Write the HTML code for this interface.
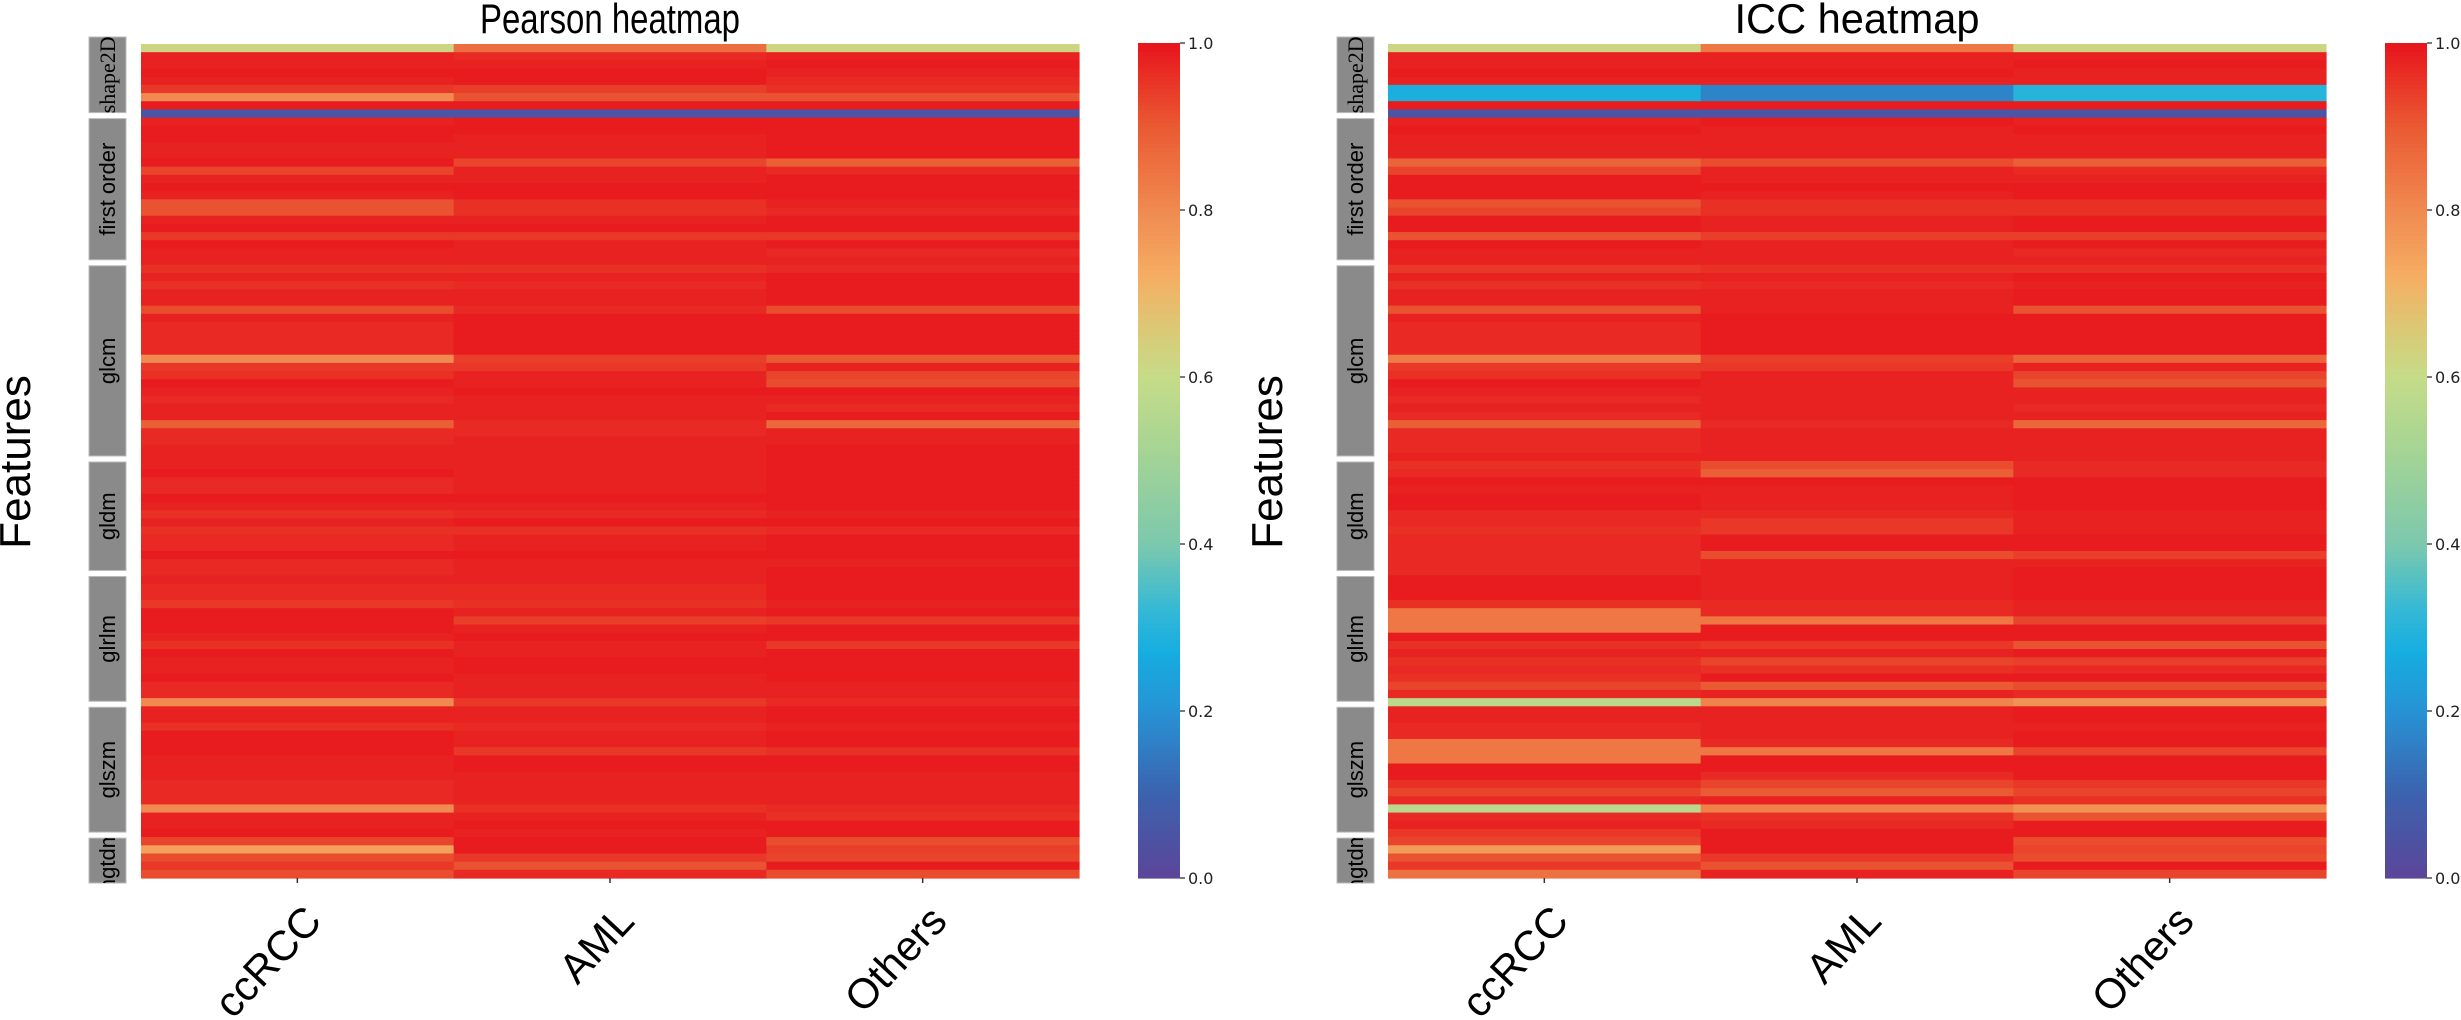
<!DOCTYPE html>
<html><head><meta charset="utf-8">
<style>
html,body{margin:0;padding:0;background:#fff;}
svg{display:block;font-family:"Liberation Sans",sans-serif;}
</style></head>
<body>
<svg id="fig" width="2461" height="1020" viewBox="0 0 2461 1020" xmlns="http://www.w3.org/2000/svg">
<rect x="0" y="0" width="2461" height="1020" fill="#fff"/>
</svg>
<script>
const categories = ["ccRCC", "AML", "Others"];
const groupNames = ["shape2D", "first order", "glcm", "gldm", "glrlm", "glszm", "ngtdm"];
const groupSizes = [9, 18, 24, 14, 16, 16, 5];
const cbTicks = [0.0, 0.2, 0.4, 0.6, 0.8, 1.0];
const cbTickLabels = ["0.0", "0.2", "0.4", "0.6", "0.8", "1.0"];

const pearsonCC = [.62,.98,.98,.99,.98,.95,.80,.99,.05,
.98,.99,.99,.98,.98,.99,.93,.98,.99,.98,.91,.91,.98,.99,.95,.99,.98,.98,
.96,.98,.96,.98,.98,.92,.98,.97,.97,.97,.97,.80,.95,.96,.99,.98,.97,.98,.98,.89,.97,.97,.98,.98,
.98,.99,.97,.97,.99,.98,.96,.98,.96,.97,.97,.99,.97,.97,
.98,.97,.97,.95,.99,.99,.99,.98,.96,.99,.98,.98,.99,.97,.97,.80,
.98,.98,.96,.99,.99,.99,.98,.98,.98,.97,.97,.97,.80,.98,.98,.99,
.93,.75,.92,.95,.92];
const pearsonAML = [.86,.97,.98,.99,.99,.94,.91,.99,.05,
.99,.99,.98,.98,.98,.93,.98,.98,.99,.99,.96,.96,.98,.99,.95,.98,.98,.98,
.96,.98,.97,.98,.98,.97,.99,.99,.99,.99,.99,.94,.95,.98,.98,.99,.98,.98,.98,.97,.97,.98,.98,.98,
.98,.98,.98,.98,.99,.98,.97,.99,.96,.98,.98,.99,.98,.98,
.98,.97,.97,.96,.98,.94,.98,.99,.98,.98,.99,.99,.98,.98,.98,.95,
.98,.98,.97,.98,.98,.95,.99,.99,.98,.98,.98,.98,.96,.98,.99,.98,
.99,.99,.95,.91,.97];
const pearsonOthers = [.62,.98,.99,.98,.97,.96,.91,.99,.05,
.99,.99,.99,.99,.99,.89,.97,.99,.99,.99,.98,.97,.99,.99,.95,.99,.97,.98,
.97,.99,.99,.99,.99,.92,.99,.99,.99,.99,.99,.90,.98,.93,.92,.99,.98,.97,.99,.87,.98,.98,.99,.99,
.99,.99,.99,.99,.99,.99,.98,.99,.97,.99,.99,.99,.98,.99,
.99,.99,.99,.98,.99,.95,.99,.99,.95,.99,.99,.99,.99,.98,.98,.97,
.99,.99,.98,.99,.99,.96,.99,.99,.98,.98,.98,.98,.97,.96,.99,.99,
.92,.94,.93,.99,.92];

const iccCC = [.62,.98,.98,.99,.98,.28,.28,.99,.05,
.98,.99,.98,.98,.98,.88,.93,.99,.99,.99,.91,.93,.99,.99,.91,.99,.98,.98,
.95,.98,.96,.98,.98,.91,.98,.97,.97,.97,.97,.83,.95,.96,.99,.98,.97,.98,.97,.89,.97,.97,.97,.98,
.96,.97,.99,.98,.99,.99,.97,.97,.96,.97,.97,.97,.97,.97,
.99,.99,.99,.96,.84,.84,.84,.99,.96,.98,.96,.97,.96,.93,.97,.57,
.98,.98,.97,.97,.84,.84,.84,.99,.99,.96,.93,.97,.57,.97,.98,.95,
.93,.76,.91,.95,.85];
const iccAML = [.84,.98,.98,.99,.98,.17,.17,.99,.05,
.99,.98,.98,.98,.98,.92,.98,.98,.99,.98,.96,.96,.98,.98,.94,.98,.98,.98,
.96,.98,.97,.98,.98,.98,.99,.99,.99,.99,.99,.94,.95,.98,.98,.98,.98,.98,.98,.97,.98,.98,.98,.98,
.92,.89,.99,.98,.98,.98,.97,.95,.95,.99,.99,.92,.98,.98,
.98,.98,.98,.97,.97,.84,.99,.99,.95,.98,.93,.96,.99,.90,.98,.81,
.98,.98,.98,.98,.97,.84,.99,.99,.97,.93,.90,.98,.82,.96,.97,.99,
.99,.99,.95,.91,.98];
const iccOthers = [.62,.98,.99,.98,.98,.30,.30,.99,.05,
.98,.99,.98,.98,.98,.89,.97,.98,.99,.99,.96,.96,.99,.99,.94,.99,.97,.98,
.96,.99,.98,.99,.99,.91,.99,.99,.99,.99,.99,.88,.98,.93,.91,.98,.98,.97,.98,.87,.98,.98,.98,.98,
.97,.97,.99,.99,.99,.99,.98,.98,.98,.99,.99,.94,.98,.99,
.99,.99,.99,.98,.98,.93,.99,.99,.91,.99,.94,.97,.99,.92,.97,.78,
.99,.99,.98,.99,.99,.93,.99,.99,.99,.95,.93,.96,.78,.91,.99,.99,
.92,.93,.92,.99,.93];

const NS = "http://www.w3.org/2000/svg";
const svg = document.getElementById("fig");
function mk(tag, attrs, parent) {
  const e = document.createElementNS(NS, tag);
  for (const k in attrs) e.setAttribute(k, attrs[k]);
  (parent || svg).appendChild(e);
  return e;
}
const cmapStops = [[0.0,"#5c4599"],[0.1,"#3c62ae"],[0.2,"#2792d4"],[0.27,"#16ade0"],[0.32,"#33b8d6"],[0.4,"#7cc8ae"],[0.5,"#a1d396"],[0.6,"#c5dc88"],[0.66,"#dcc875"],[0.72,"#f5ae63"],[0.8,"#f08a50"],[0.9,"#ea5a33"],[1.0,"#e8141c"]];
function hex2rgb(h){return [parseInt(h.slice(1,3),16),parseInt(h.slice(3,5),16),parseInt(h.slice(5,7),16)];}
function cmap(v) {
  v = Math.max(0, Math.min(1, v));
  for (let i = 1; i < cmapStops.length; i++) {
    if (v <= cmapStops[i][0]) {
      const [a, ca] = cmapStops[i-1], [b, cb] = cmapStops[i];
      const t = (v - a) / (b - a);
      const A = hex2rgb(ca), B = hex2rgb(cb);
      return "rgb(" + A.map((x, j) => Math.round(x + (B[j]-x)*t)).join(",") + ")";
    }
  }
  return cmapStops[cmapStops.length-1][1];
}

function drawPanel(p) {
  const g = mk("g", {});
  
  
  const nRows = p.series[0].length;
  const top = 44, bottom = 878;
  const rh = (bottom - top) / nRows;
  const cw = (p.right - p.left) / categories.length;
  const yRow = i => top + i * rh;
  const xCol = j => p.left + j * cw;
  p.series.forEach((vals, j) => {
    vals.forEach((v, i) => {
      const r = mk("rect", {x: xCol(j).toFixed(2), y: yRow(i).toFixed(2), width: (cw+0.6).toFixed(2), height: (rh+0.6).toFixed(2), fill: cmap(v)}, g);
      
      
    });
  });
  const t = mk("text", {x: (p.left + p.right)/2, y: 33, "text-anchor": "middle", "font-size": 42, fill: "#000", textLength: p.titleLen, lengthAdjust: "spacingAndGlyphs"}, g);
  t.textContent = p.title;
  
  
  const yt = mk("text", {x: 0, y: 0, transform: "translate(" + p.ylabX + ",462) rotate(-90)", "text-anchor": "middle", "font-size": 44, fill: "#000"}, g);
  yt.textContent = "Features";
  
  
  let start = 0;
  groupSizes.forEach((n, k) => {
    let y0 = yRow(start) + 1, y1 = yRow(start + n) - 5;
    if (k === 0) y0 = 37;
    if (k === groupSizes.length - 1) y1 = 883;
    const bx = mk("rect", {x: p.gx, y: y0, width: 37, height: y1 - y0, fill: "#8a8a8a", stroke: "#bbb", "stroke-width": 1}, g);
    
    
    const cid = p.name + "-clip-" + k;
    const cp = mk("clipPath", {id: cid}, g);
    mk("rect", {x: p.gx, y: y0, width: 37, height: y1 - y0}, cp);
    const cg = mk("g", {"clip-path": "url(#" + cid + ")"}, g);
    const cyc = (y0 + y1) / 2;
    const lt = mk("text", {x: 0, y: 0, transform: "translate(" + (p.gx + 26) + "," + cyc + ") rotate(-90)", "text-anchor": "middle", "font-size": 22, fill: "#000",
      "font-family": k === 0 ? '"Liberation Serif", serif' : '"Liberation Sans", sans-serif'}, cg);
    lt.textContent = groupNames[k];
    
    
    start += n;
  });
  categories.forEach((c, j) => {
    const cx = xCol(j) + cw / 2;
    const tk = mk("line", {x1: cx, y1: bottom, x2: cx, y2: bottom + 5, stroke: "#333", "stroke-width": 1.5}, g);
    
    
    const lb = mk("text", {x: 0, y: 0, transform: "translate(" + (cx + 4) + ",902) rotate(-47)", "text-anchor": "end", "dominant-baseline": "hanging", "font-size": 42, fill: "#000"}, g);
    lb.textContent = c;
    
    
  });
  const cbTop = 43, cbBot = 878;
  const yCb = v => cbBot - v * (cbBot - cbTop);
  const steps = 200;
  for (let s = 0; s < steps; s++) {
    const v0 = s / steps, v1 = (s + 1) / steps;
    const r = mk("rect", {x: p.cbx, y: yCb(v1).toFixed(2), width: 42, height: (yCb(v0) - yCb(v1) + 0.6).toFixed(2), fill: cmap((v0 + v1) / 2)}, g);
    
    
  }
  cbTicks.forEach((v, i) => {
    const y = yCb(v);
    const tl = mk("line", {x1: p.cbx + 42, y1: y, x2: p.cbx + 47, y2: y, stroke: "#222", "stroke-width": 1.2}, g);
    
    
    const tx = mk("text", {x: p.cbx + 50, y: y + 6, "font-size": 16, fill: "#222", "font-family": '"DejaVu Sans", sans-serif'}, g);
    tx.textContent = cbTickLabels[i];
    
    
  });
}

drawPanel({name: "pearson-heatmap", title: "Pearson heatmap", titleLen: 260, left: 141, right: 1079, gx: 89, ylabX: 30, cbx: 1138,
  series: [pearsonCC, pearsonAML, pearsonOthers]});
drawPanel({name: "icc-heatmap", title: "ICC heatmap", titleLen: 245, left: 1388, right: 2326, gx: 1337, ylabX: 1282, cbx: 2385,
  series: [iccCC, iccAML, iccOthers]});
</script>
</body></html>
